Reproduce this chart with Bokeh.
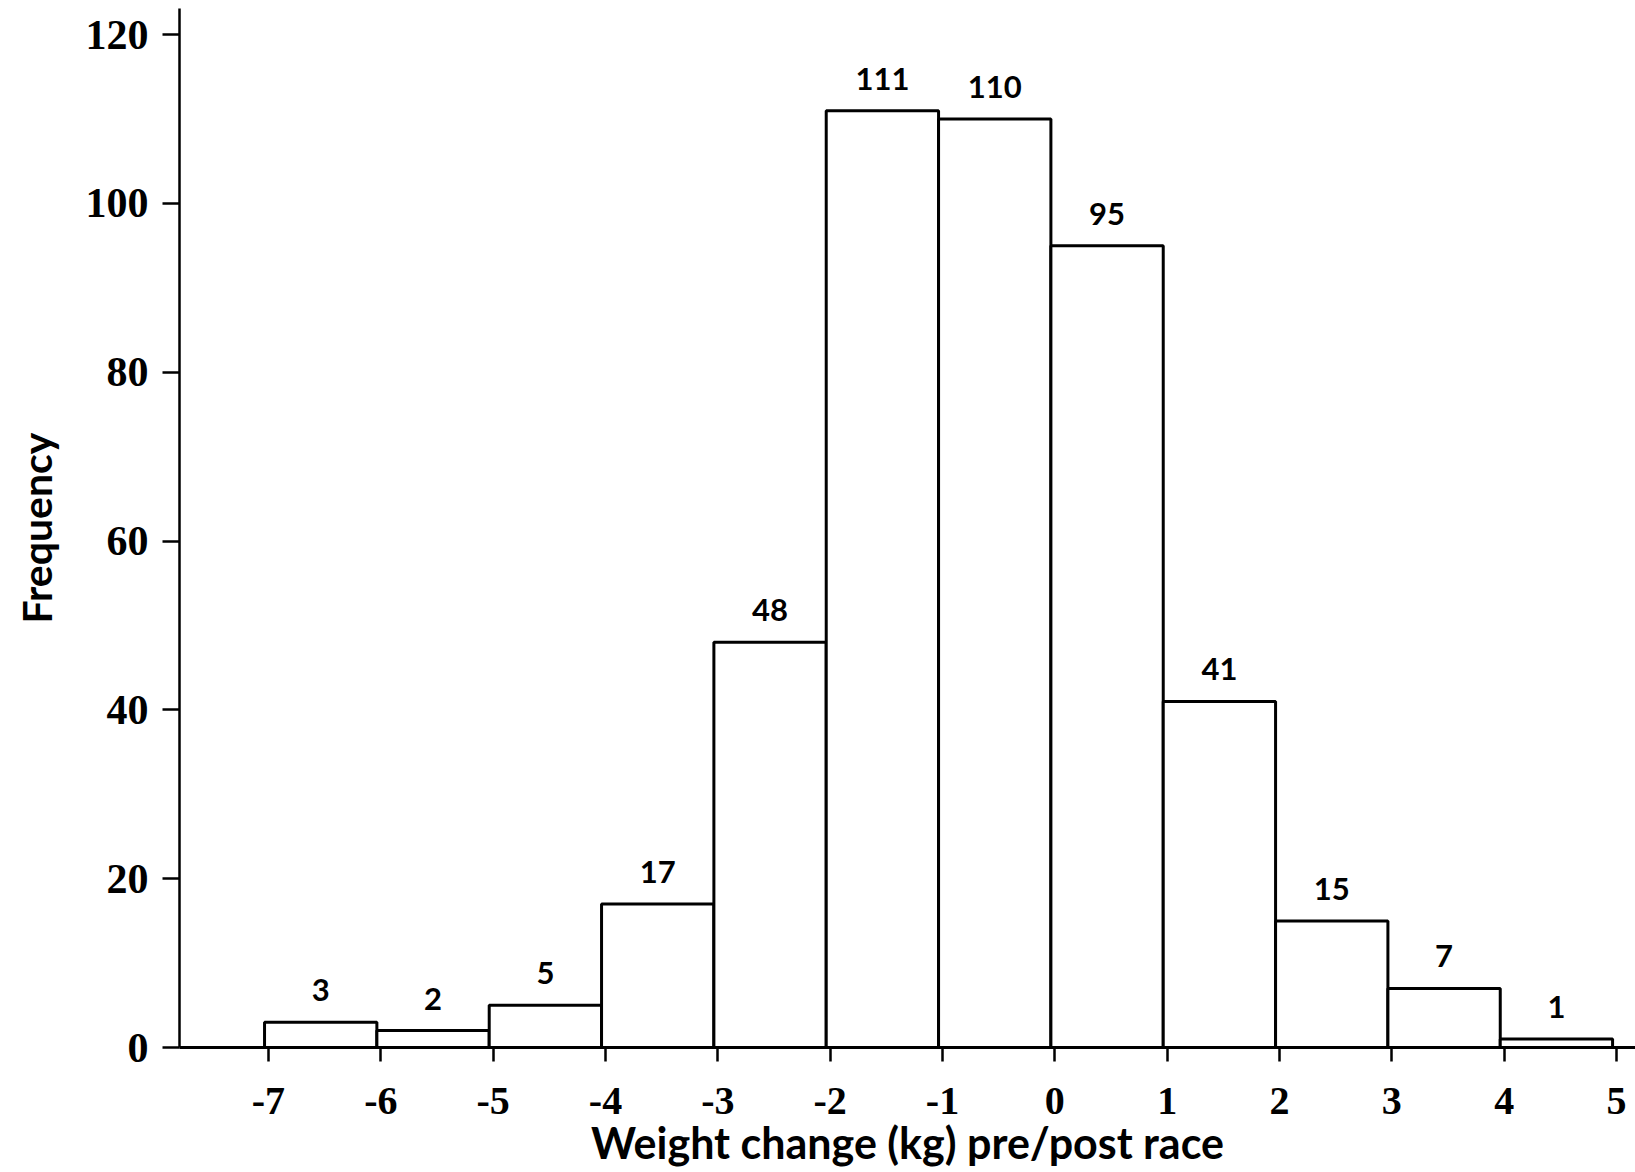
from bokeh.plotting import figure
from bokeh.models import ColumnDataSource, FixedTicker
from bokeh.embed import file_html
from bokeh.resources import INLINE
from bokeh.core.properties import value

# ---- data ----
bin_left = [-7, -6, -5, -4, -3, -2, -1, 0, 1, 2, 3, 4]
bin_right = [-6, -5, -4, -3, -2, -1, 0, 1, 2, 3, 4, 5]
frequency = [3, 2, 5, 17, 48, 111, 110, 95, 41, 15, 7, 1]
x_ticks = [-7, -6, -5, -4, -3, -2, -1, 0, 1, 2, 3, 4, 5]
y_ticks = [0, 20, 40, 60, 80, 100, 120]
x_title = "Weight change (kg) pre/post race"
y_title = "Frequency"

# the original drawing sets the bars a hair left of the tick marks
BAR_SHIFT = -0.035

centers = [(a + b) / 2 + BAR_SHIFT for a, b in zip(bin_left, bin_right)]
src = ColumnDataSource(dict(left=[v + BAR_SHIFT for v in bin_left],
                            right=[v + BAR_SHIFT for v in bin_right],
                            top=frequency, center=centers,
                            label=[str(v) for v in frequency]))

SANS = "Lato"
SERIF = "Liberation Serif"

p = figure(width=1635, height=1170, output_backend="svg", toolbar_location=None,
           x_range=(-7.792, 5.169), y_range=(0, 123.1),
           min_border_left=179, min_border_right=0, min_border_top=8, min_border_bottom=121)
p.outline_line_color = None
p.xgrid.visible = False
p.ygrid.visible = False
p.background_fill_color = "white"
p.border_fill_color = "white"

p.quad(left="left", right="right", top="top", bottom=0, source=src,
       fill_color="white", line_color="black", line_width=3)

p.text(x="center", y="top", text="label", source=src, text_align="center",
       text_baseline="bottom", y_offset=-21, text_font=value(SANS),
       text_font_style="bold", text_font_size="31px", text_color="black")

# x axis
xa = p.xaxis[0]
xa.ticker = FixedTicker(ticks=x_ticks)
xa.major_label_overrides = {t: str(t) for t in x_ticks}
xa.minor_tick_line_color = None
xa.major_tick_in = 0
xa.major_tick_out = 14
xa.major_tick_line_width = 2.5
xa.major_tick_line_color = "black"
xa.axis_line_width = 3
xa.axis_line_color = "black"
xa.major_label_text_font = SERIF
xa.major_label_text_font_style = "bold"
xa.major_label_text_font_size = "40px"
xa.major_label_text_color = "black"
xa.major_label_standoff = 26
xa.axis_label = x_title
xa.axis_label_text_font = SANS
xa.axis_label_text_font_style = "bold"
xa.axis_label_text_font_size = "43px"
xa.axis_label_text_color = "black"
xa.axis_label_standoff = 0

# y axis
ya = p.yaxis[0]
ya.ticker = FixedTicker(ticks=y_ticks)
ya.minor_tick_line_color = None
ya.major_tick_in = 0
ya.major_tick_out = 17
ya.major_tick_line_width = 2.5
ya.major_tick_line_color = "black"
ya.axis_line_width = 2.5
ya.axis_line_color = "black"
ya.major_label_text_font = SERIF
ya.major_label_text_font_style = "bold"
ya.major_label_text_font_size = "42px"
ya.major_label_text_color = "black"
ya.major_label_standoff = 14
ya.major_label_orientation = "horizontal"
ya.axis_label = y_title
ya.axis_label_text_font = SANS
ya.axis_label_text_font_style = "bold"
ya.axis_label_text_font_size = "41px"
ya.axis_label_text_color = "black"
ya.axis_label_standoff = 22

open("out.html", "w").write(file_html(p, INLINE))
